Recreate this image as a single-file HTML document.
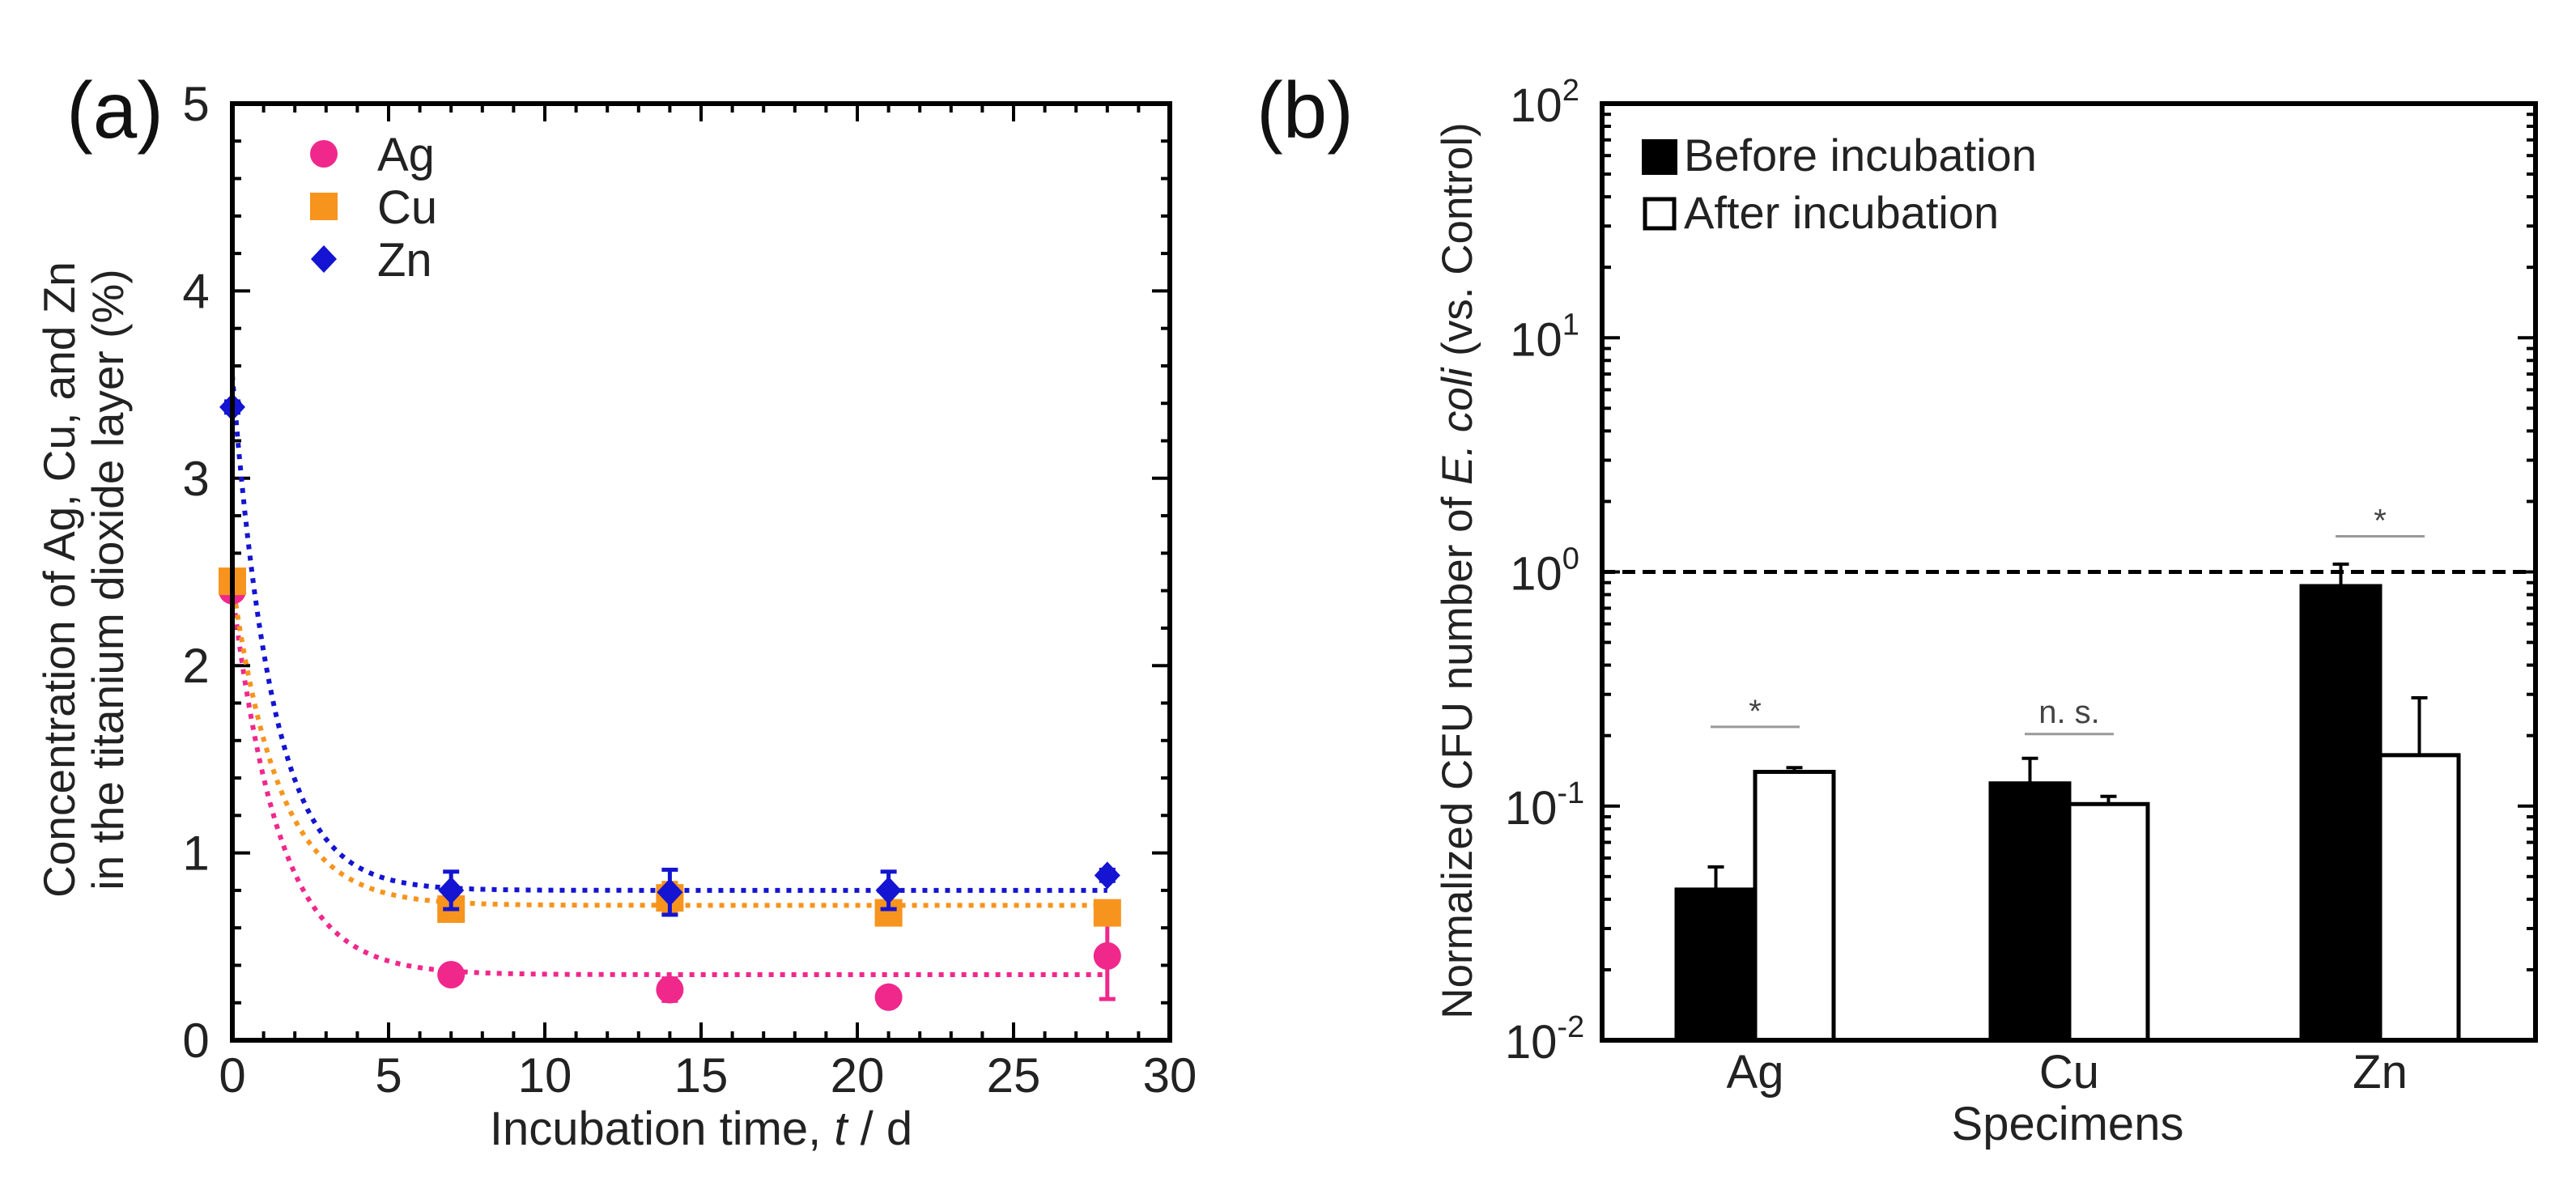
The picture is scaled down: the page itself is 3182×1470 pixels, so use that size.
<!DOCTYPE html>
<html><head><meta charset="utf-8"><style>
body{margin:0;background:#fff}
svg{display:block;font-family:"Liberation Sans",Arial,sans-serif}
</style></head><body>
<svg id="fig" width="3182" height="1470" viewBox="0 0 3182 1470"></svg>
<script>
// ---- Panel (a) data ----
const timesA = [0, 7, 14, 21, 28];
const agVals = [2.40, 0.35, 0.27, 0.23, 0.45];
const agErr = [0.03, 0.03, 0.06, 0.04, 0.23];
const cuVals = [2.45, 0.70, 0.76, 0.68, 0.68];
const cuErr = [0.03, 0.03, 0.08, 0.03, 0.03];
const znVals = [3.38, 0.80, 0.79, 0.80, 0.88];
const znErr = [0.03, 0.10, 0.12, 0.10, 0.03];
const fitPlateau = [0.35, 0.72, 0.80];
const fitStart = [2.40, 2.45, 3.55];
const fitTau = [1.5, 1.5, 1.3];
const xTicksA = [0, 5, 10, 15, 20, 25, 30];
const yTicksA = [0, 1, 2, 3, 4, 5];
// ---- Panel (b) data ----
const categoriesB = ["Ag", "Cu", "Zn"];
const beforeVals = [0.044, 0.125, 0.87];
const beforeErr = [0.011, 0.035, 0.21];
const afterVals = [0.14, 0.102, 0.165];
const afterErr = [0.006, 0.008, 0.125];
const sigLabels = ["*", "n. s.", "*"];
const sigHeights = [0.218, 0.203, 1.42];
const yTicksBExp = [-2, -1, 0, 1, 2];
const refLine = 1.0;

const NS = "http://www.w3.org/2000/svg";
const svg = document.getElementById('fig');
function mk(tag, attrs, parent, name) {
  const e = document.createElementNS(NS, tag);
  for (const k in attrs) e.setAttribute(k, attrs[k]);
  
  
  (parent || svg).appendChild(e);
  return e;
}
function txt(x, y, s, size, parent, name, extra) {
  const t = mk('text', Object.assign({x: x, y: y, 'font-size': size, 'text-anchor': 'middle', fill: '#222'}, extra || {}), parent, name);
  t.textContent = s;
  return t;
}

// ===== Panel A =====
const A = {l: 287, r: 1445, t: 128, b: 1285};
const ax = v => A.l + (v - 0) / 30 * (A.r - A.l);
const ay = v => A.b - v / 5 * (A.b - A.t);
const gA = mk('g', {}, svg, 'panel-a');
for (let v = 0; v <= 30; v += 1) {
  const major = v % 5 === 0, L = major ? 22 : 11;
  mk('line', {x1: ax(v), x2: ax(v), y1: A.b, y2: A.b - L, stroke: '#000', 'stroke-width': 4}, gA, 'x-tick-bottom');
  mk('line', {x1: ax(v), x2: ax(v), y1: A.t, y2: A.t + L, stroke: '#000', 'stroke-width': 4}, gA, 'x-tick-top');
}
for (let i = 0; i <= 25; i++) {
  const v = i * 0.2, major = i % 5 === 0, L = major ? 22 : 11;
  mk('line', {x1: A.l, x2: A.l + L, y1: ay(v), y2: ay(v), stroke: '#000', 'stroke-width': 4}, gA, 'y-tick-left');
  mk('line', {x1: A.r, x2: A.r - L, y1: ay(v), y2: ay(v), stroke: '#000', 'stroke-width': 4}, gA, 'y-tick-right');
}
xTicksA.forEach(v => txt(ax(v), A.b + 64, String(v), 60, gA, 'x-tick-label'));
yTicksA.forEach(v => txt(A.l - 45, ay(v) + 21, String(v), 60, gA, 'y-tick-label'));
txt((A.l + A.r) / 2, 1414, '', 58, gA, 'x-axis-title').innerHTML = 'Incubation time, <tspan font-style="italic">t</tspan> / d';
const yt = mk('text', {transform: 'translate(92,716) rotate(-90)', 'font-size': 55, 'text-anchor': 'middle', fill: '#222'}, gA, 'y-axis-title');
yt.innerHTML = '<tspan x="0" y="0">Concentration of Ag, Cu, and Zn</tspan><tspan x="0" y="60">in the titanium dioxide layer (%)</tspan>';
txt(142, 170, '(a)', 98, gA, 'panel-label-a', {fill: '#111'});

const colors = ['#f0288c', '#f7941d', '#1414d2'];
const seriesVals = [agVals, cuVals, znVals];
const seriesErr = [agErr, cuErr, znErr];
const seriesNames = ['ag', 'cu', 'zn'];
for (let s = 0; s < 3; s++) {
  let d = '';
  for (let t = 0; t <= 28.001; t += 0.1) {
    const v = fitPlateau[s] + (fitStart[s] - fitPlateau[s]) * Math.exp(-t / fitTau[s]);
    d += (d ? 'L' : 'M') + ax(t).toFixed(1) + ',' + ay(v).toFixed(1);
  }
  mk('path', {d: d, fill: 'none', stroke: colors[s], 'stroke-width': 6, 'stroke-dasharray': '6 8'}, gA, 'fit-curve-' + seriesNames[s]);
}
function marker(s, x, y, parent, name) {
  if (s === 0) mk('circle', {cx: x, cy: y, r: 17, fill: colors[0]}, parent, name);
  else if (s === 1) mk('rect', {x: x - 17, y: y - 17, width: 34, height: 34, fill: colors[1]}, parent, name);
  else mk('polygon', {points: `${x},${y - 17} ${x + 16},${y} ${x},${y + 17} ${x - 16},${y}`, fill: colors[2]}, parent, name);
}
for (let s = 0; s < 3; s++) {
  timesA.forEach((t, i) => {
    const x = ax(t), v = seriesVals[s][i], e = seriesErr[s][i];
    mk('line', {x1: x, x2: x, y1: ay(v - e), y2: ay(v + e), stroke: colors[s], 'stroke-width': 5}, gA, 'error-bar-' + seriesNames[s]);
    mk('line', {x1: x - 10, x2: x + 10, y1: ay(v + e), y2: ay(v + e), stroke: colors[s], 'stroke-width': 5}, gA, 'error-cap-' + seriesNames[s]);
    mk('line', {x1: x - 10, x2: x + 10, y1: ay(v - e), y2: ay(v - e), stroke: colors[s], 'stroke-width': 5}, gA, 'error-cap-' + seriesNames[s]);
    marker(s, x, ay(v), gA, 'point-' + seriesNames[s]);
  });
}
['Ag', 'Cu', 'Zn'].forEach((n, s) => {
  const y = 190 + s * 65;
  marker(s, 400, y, gA, 'legend-marker-' + seriesNames[s]);
  txt(466, y + 21, n, 58, gA, 'legend-label-' + seriesNames[s], {'text-anchor': 'start'});
});
mk('rect', {x: A.l, y: A.t, width: A.r - A.l, height: A.b - A.t, fill: 'none', stroke: '#000', 'stroke-width': 6}, gA, 'plot-frame-a');

// ===== Panel B =====
const B = {l: 1979, r: 3132, t: 128, b: 1285};
const by = v => B.b - (Math.log10(v) + 2) / 4 * (B.b - B.t);
const gB = mk('g', {}, svg, 'panel-b');
const centers = [2168, 2556, 2940];
const bw = 97;
for (let e = -2; e < 2; e++) {
  for (let m = 1; m < 10; m++) {
    const v = m * Math.pow(10, e), L = m === 1 ? 22 : 11;
    mk('line', {x1: B.l, x2: B.l + L, y1: by(v), y2: by(v), stroke: '#000', 'stroke-width': 4}, gB, 'y-tick-left');
    mk('line', {x1: B.r, x2: B.r - L, y1: by(v), y2: by(v), stroke: '#000', 'stroke-width': 4}, gB, 'y-tick-right');
  }
}
yTicksBExp.forEach(e => {
  const t = txt(1908, by(Math.pow(10, e)) + 22, '', 58, gB, 'y-tick-label');
  t.innerHTML = '10<tspan dy="-26" font-size="38">' + e + '</tspan>';
});
categoriesB.forEach((c, i) => txt(centers[i], 1344, c, 58, gB, 'category-label'));
txt(2554, 1408, 'Specimens', 58, gB, 'x-axis-title');
const yb = mk('text', {transform: 'translate(1818,705) rotate(-90)', 'font-size': 53, 'text-anchor': 'middle', fill: '#222'}, gB, 'y-axis-title');
yb.innerHTML = 'Normalized CFU number of <tspan font-style="italic">E. coli</tspan> (vs. Control)';
txt(1612, 170, '(b)', 98, gB, 'panel-label-b', {fill: '#111'});
categoriesB.forEach((c, i) => {
  const xc = centers[i];
  [[beforeVals, beforeErr, '#000', -1, 'before'], [afterVals, afterErr, '#fff', 0, 'after']].forEach(([vals, errs, fill, off, nm]) => {
    const x0 = xc + off * bw, top = by(vals[i]), etop = by(vals[i] + errs[i]);
    const mid = x0 + bw / 2;
    mk('line', {x1: mid, x2: mid, y1: top, y2: etop, stroke: '#000', 'stroke-width': 4}, gB, 'error-bar-' + nm);
    mk('line', {x1: mid - 10, x2: mid + 10, y1: etop, y2: etop, stroke: '#000', 'stroke-width': 4}, gB, 'error-cap-' + nm);
    mk('rect', {x: x0, y: top, width: bw, height: B.b - top, fill: fill, stroke: '#000', 'stroke-width': 5}, gB, 'bar-' + nm + '-' + c.toLowerCase());
  });
  const sy = by(sigHeights[i]);
  mk('line', {x1: xc - 55, x2: xc + 55, y1: sy, y2: sy, stroke: '#999', 'stroke-width': 3}, gB, 'significance-line');
  txt(xc, sy - (sigLabels[i] === '*' ? 6 : 14), sigLabels[i], 40, gB, 'significance-label', {fill: '#444'});
});
mk('line', {x1: B.l, x2: B.r, y1: by(refLine), y2: by(refLine), stroke: '#000', 'stroke-width': 5, 'stroke-dasharray': '16 9'}, gB, 'reference-line');
mk('rect', {x: 2030, y: 174, width: 40, height: 40, fill: '#000', stroke: '#000', 'stroke-width': 4}, gB, 'legend-swatch-before');
txt(2080, 211, 'Before incubation', 56, gB, 'legend-label-before', {'text-anchor': 'start'});
mk('rect', {x: 2032, y: 246, width: 36, height: 36, fill: '#fff', stroke: '#000', 'stroke-width': 5}, gB, 'legend-swatch-after');
txt(2080, 282, 'After incubation', 56, gB, 'legend-label-after', {'text-anchor': 'start'});
mk('rect', {x: B.l, y: B.t, width: B.r - B.l, height: B.b - B.t, fill: 'none', stroke: '#000', 'stroke-width': 6}, gB, 'plot-frame-b');
</script>
</body></html>
